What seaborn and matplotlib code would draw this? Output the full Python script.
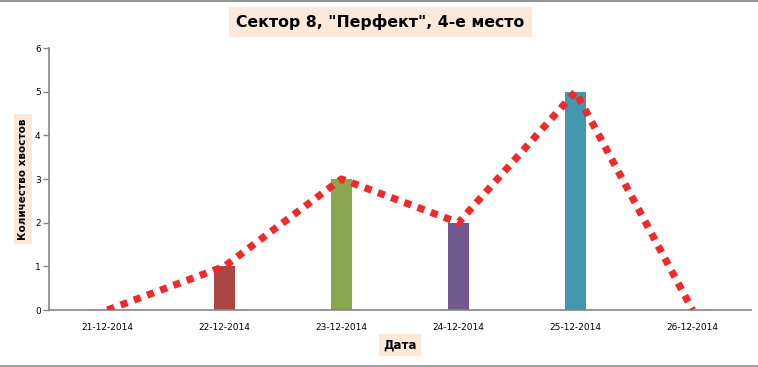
import numpy as np
import pandas as pd
import matplotlib
matplotlib.use("Agg")
import matplotlib.pyplot as plt
from matplotlib.lines import Line2D
import seaborn as sns

dates = ['21-12-2014', '22-12-2014', '23-12-2014', '24-12-2014', '25-12-2014', '26-12-2014']
tails = [0, 1, 3, 2, 5, 0]
bar_colors = ['#4572A7', '#AA4643', '#89A54E', '#71588F', '#4198AF', '#DB843D']

sns.set_style('white')
plt.rcParams['font.family'] = ['DejaVu Sans']
plt.rcParams['text.color'] = 'black'
plt.rcParams['xtick.color'] = 'black'
plt.rcParams['ytick.color'] = 'black'
plt.rcParams['axes.labelcolor'] = 'black'

df = pd.DataFrame({'date': dates, 'tails': tails})

fig = plt.figure(figsize=(7.58, 3.67), dpi=100)
ax = fig.add_axes([0.0646, 0.1553, 0.9262, 0.7139])

sns.barplot(data=df, x='date', y='tails', hue='date', palette=bar_colors,
            width=0.175, legend=False, ax=ax, saturation=1, linewidth=0)

# dotted trend line through the same values
ax.plot(np.arange(len(dates)), tails, color='#EE2A2A', lw=5.2,
        linestyle=(0, (1, 0.95)), zorder=3)

ax.set_xlim(-0.5, len(dates) - 0.5)
ax.set_ylim(0, 6)
ax.set_yticks(range(0, 7))

for side in ['top', 'right']:
    ax.spines[side].set_visible(False)
for side in ['left', 'bottom']:
    ax.spines[side].set_color('#868686')
    ax.spines[side].set_linewidth(1.2)

ax.tick_params(axis='y', length=4, width=1, color='#868686', labelcolor='black',
               labelsize=6.5, pad=2, left=True)
ax.tick_params(axis='x', length=0, labelsize=6.5, pad=9, labelcolor='black')

peach = dict(facecolor='#FDE9D9', edgecolor='none', pad=3)
ax.set_xlabel('Дата', fontsize=8.5, fontweight='bold', labelpad=5, bbox=peach)
ax.set_ylabel('Количество хвостов', fontsize=7.5, fontweight='bold', labelpad=5, bbox=peach)
fig.text(0.502, 0.94, 'Сектор 8, "Перфект", 4-е место', ha='center', va='center',
         fontsize=11.3, fontweight='bold', bbox=dict(facecolor='#FDE9D9', edgecolor='none', pad=5))

# sheet border lines around the chart
fig.add_artist(Line2D([0, 1], [0.996, 0.996], color='#808080', lw=1.2))
fig.add_artist(Line2D([0, 1], [0.003, 0.003], color='#909090', lw=1.2))

fig.savefig('out.png', dpi=100)
